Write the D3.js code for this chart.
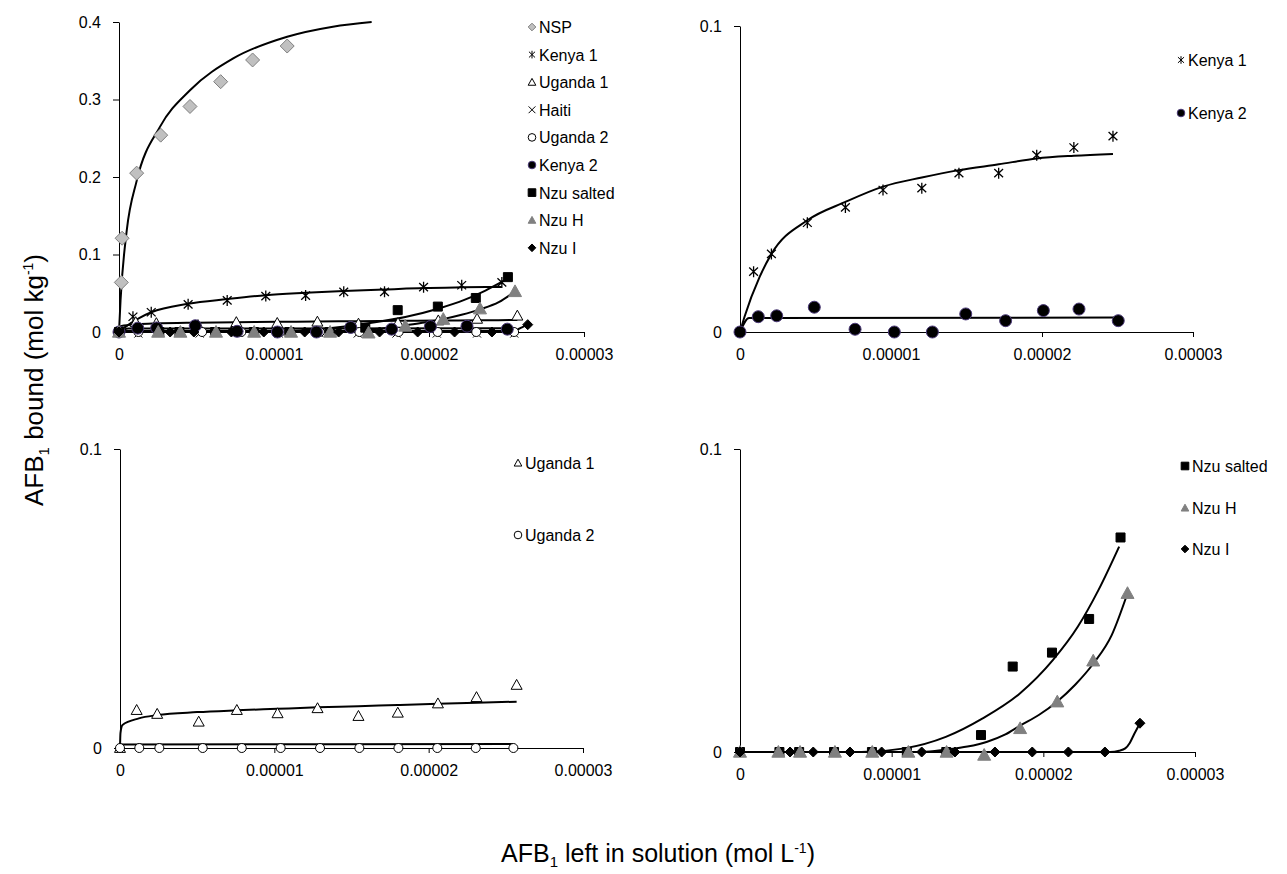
<!DOCTYPE html>
<html>
<head>
<meta charset="utf-8">
<script src="https://cdn.jsdelivr.net/npm/d3@7"></script>
<style>
  body { margin: 0; background: #fff; }
  svg { display: block; }
  text { font-family: "Liberation Sans", Arial, sans-serif; fill: #000; }
</style>
</head>
<body>
<div id="chart"></div>
<script>
// tick labels
const xTicks = [0, 0.00001, 0.00002, 0.00003];
const xTickLabels = ["0", "0.00001", "0.00002", "0.00003"];
const yTicksBig = [0, 0.1, 0.2, 0.3, 0.4];
const yTickLabelsBig = ["0", "0.1", "0.2", "0.3", "0.4"];
const yTicksSmall = [0, 0.1];
const yTickLabelsSmall = ["0", "0.1"];

// series names (legend order)
const seriesNames = ["NSP", "Kenya 1", "Uganda 1", "Haiti", "Uganda 2", "Kenya 2", "Nzu salted", "Nzu H", "Nzu I"];

// measured points (x = mol/L left in solution, y = mol/kg bound)
const nspX = [1.5e-7, 2e-7, 1.14e-6, 2.69e-6, 4.58e-6, 6.56e-6, 8.62e-6, 1.085e-5];
const nspY = [0.064, 0.121, 0.205, 0.254, 0.291, 0.323, 0.351, 0.369];
const kenya1X = [0, 9.0e-7, 2.08e-6, 4.46e-6, 6.98e-6, 9.47e-6, 1.204e-5, 1.45e-5, 1.713e-5, 1.965e-5, 2.211e-5, 2.47e-5];
const kenya1Y = [0, 0.0197, 0.0255, 0.0357, 0.0407, 0.0464, 0.0470, 0.0519, 0.0519, 0.0578, 0.0603, 0.064];
const uganda1X = [0, 1.08e-6, 2.41e-6, 5.1e-6, 7.57e-6, 1.021e-5, 1.28e-5, 1.545e-5, 1.80e-5, 2.06e-5, 2.31e-5, 2.57e-5];
const uganda1Y = [0, 0.0127, 0.0114, 0.0088, 0.0127, 0.0116, 0.0133, 0.0107, 0.0118, 0.0149, 0.0170, 0.0211];
const haitiX = [0, 1.25e-6, 2.5e-6, 5.2e-6, 7.7e-6, 1.03e-5, 1.29e-5, 1.54e-5, 1.79e-5, 2.05e-5, 2.31e-5, 2.55e-5];
const haitiY = [0, -0.002, -0.001, -0.002, -0.001, -0.002, -0.001, -0.002, -0.002, -0.002, -0.002, -0.002];
const uganda2X = [0, 1.25e-6, 2.55e-6, 5.36e-6, 7.89e-6, 1.041e-5, 1.296e-5, 1.551e-5, 1.804e-5, 2.056e-5, 2.305e-5, 2.549e-5];
const uganda2Y = [0, 0, 0, 0, 0, 0, 0, 0, 0, 0, 0, 0];
const kenya2X = [0, 1.21e-6, 2.43e-6, 4.92e-6, 7.62e-6, 1.022e-5, 1.274e-5, 1.495e-5, 1.759e-5, 2.009e-5, 2.245e-5, 2.505e-5];
const kenya2Y = [0, 0.005, 0.0053, 0.0081, 0.0009, 0, 0, 0.0059, 0.0037, 0.007, 0.0075, 0.0037];
const nzuSaltedX = [0, 2.6e-6, 3.9e-6, 6.2e-6, 8.7e-6, 1.1e-5, 1.36e-5, 1.589e-5, 1.798e-5, 2.057e-5, 2.302e-5, 2.509e-5];
const nzuSaltedY = [0, 0, 0, 0, 0, 0, 0, 0.0056, 0.0282, 0.0328, 0.0439, 0.0708];
const nzuHX = [0, 2.53e-6, 3.96e-6, 6.26e-6, 8.72e-6, 1.11e-5, 1.362e-5, 1.61e-5, 1.847e-5, 2.092e-5, 2.329e-5, 2.555e-5];
const nzuHY = [0, 0, 0, 0, 0, 0, 0, -0.001, 0.0078, 0.0166, 0.0301, 0.0524];
const nzuIX = [0, 3.3e-6, 4.83e-6, 7.25e-6, 9.34e-6, 1.198e-5, 1.417e-5, 1.681e-5, 1.927e-5, 2.165e-5, 2.406e-5, 2.637e-5];
const nzuIY = [0, 0, 0, 0, 0, 0, 0, 0, 0, 0, 0, 0.0095];

// fitted isotherm curves
const nspFitX = [0, 1e-7, 5e-7, 1.14e-6, 2.65e-6, 4.58e-6, 7.37e-6, 1.085e-5, 1.38e-5, 1.63e-5];
const nspFitY = [0, 0.041, 0.131, 0.195, 0.265, 0.312, 0.353, 0.381, 0.394, 0.400];
const kenya1FitX = [0, 3e-7, 1.3e-6, 2.08e-6, 4.46e-6, 6.98e-6, 9.47e-6, 1.204e-5, 1.45e-5, 1.713e-5, 1.965e-5, 2.211e-5, 2.47e-5];
const kenya1FitY = [0, 0.005, 0.018, 0.0255, 0.0365, 0.0425, 0.0475, 0.0505, 0.0529, 0.0548, 0.0567, 0.0576, 0.0582];
const uganda1FitX = [0, 3e-8, 1.6e-7, 1.22e-6, 2.41e-6, 5e-6, 7.57e-6, 1.02e-5, 1.28e-5, 1.545e-5, 1.8e-5, 2.06e-5, 2.31e-5, 2.57e-5];
const uganda1FitY = [0, 0.005, 0.0077, 0.0099, 0.011, 0.012, 0.0126, 0.0131, 0.0136, 0.014, 0.0144, 0.0148, 0.0151, 0.0155];
const haitiFitX = [0, 2.55e-5];
const haitiFitY = [0, 0];
const uganda2FitX = [0, 1e-7, 2.549e-5];
const uganda2FitY = [0, 0.0012, 0.0013];
const kenya2FitX = [0, 6e-7, 2.505e-5];
const kenya2FitY = [0, 0.0046, 0.0047];
const nzuSaltedFitX = [0, 8e-6, 1.084e-5, 1.357e-5, 1.6e-5, 1.847e-5, 2.064e-5, 2.228e-5, 2.364e-5, 2.5e-5];
const nzuSaltedFitY = [0, 0, 0.0012, 0.005, 0.0111, 0.0194, 0.0304, 0.0414, 0.0535, 0.0678];
const nzuHFitX = [0, 1.2e-5, 1.36e-5, 1.5e-5, 1.63e-5, 1.75e-5, 1.85e-5, 1.97e-5, 2.09e-5, 2.21e-5, 2.33e-5, 2.45e-5, 2.555e-5];
const nzuHFitY = [0, 0, 0.0008, 0.0018, 0.0034, 0.0058, 0.0088, 0.0122, 0.0166, 0.0222, 0.0292, 0.0385, 0.0524];
const nzuIFitX = [0, 2.44e-5, 2.5e-5, 2.54e-5, 2.57e-5, 2.6e-5, 2.637e-5];
const nzuIFitY = [0, 0, 0.0004, 0.0012, 0.003, 0.006, 0.0095];

// build a lookup table of the series from the arrays above
const zip = (xs, ys) => xs.map((x, i) => ({ x: x, y: ys[i] }));
const series = {
  "NSP":        { pts: zip(nspX, nspY), fit: zip(nspFitX, nspFitY) },
  "Kenya 1":    { pts: zip(kenya1X, kenya1Y), fit: zip(kenya1FitX, kenya1FitY) },
  "Uganda 1":   { pts: zip(uganda1X, uganda1Y), fit: zip(uganda1FitX, uganda1FitY) },
  "Haiti":      { pts: zip(haitiX, haitiY), fit: zip(haitiFitX, haitiFitY) },
  "Uganda 2":   { pts: zip(uganda2X, uganda2Y), fit: zip(uganda2FitX, uganda2FitY) },
  "Kenya 2":    { pts: zip(kenya2X, kenya2Y), fit: zip(kenya2FitX, kenya2FitY) },
  "Nzu salted": { pts: zip(nzuSaltedX, nzuSaltedY), fit: zip(nzuSaltedFitX, nzuSaltedFitY) },
  "Nzu H":      { pts: zip(nzuHX, nzuHY), fit: zip(nzuHFitX, nzuHFitY) },
  "Nzu I":      { pts: zip(nzuIX, nzuIY), fit: zip(nzuIFitX, nzuIFitY) }
};

// marker look for each series
const markerStyle = {
  "NSP":        { shape: "diamond",  r: 7,   fill: "#c0c0c0", stroke: "#808080", sw: 1 },
  "Kenya 1":    { shape: "star",     r: 5.5, fill: "none",    stroke: "#000",    sw: 1.3 },
  "Uganda 1":   { shape: "triangle", r: 5.5, fill: "#fff",    stroke: "#000",    sw: 1 },
  "Haiti":      { shape: "cross",    r: 4,   fill: "none",    stroke: "#000",    sw: 1 },
  "Uganda 2":   { shape: "circle",   r: 4.5, fill: "#fff",    stroke: "#000",    sw: 1 },
  "Kenya 2":    { shape: "circle",   r: 6,   fill: "#000",    stroke: "#4b3a78", sw: 1 },
  "Nzu salted": { shape: "square",   r: 4.5, fill: "#000",    stroke: "#000",    sw: 1 },
  "Nzu H":      { shape: "triangle", r: 6.5, fill: "#808080", stroke: "#808080", sw: 1 },
  "Nzu I":      { shape: "diamond",  r: 5,   fill: "#000",    stroke: "#000",    sw: 1 }
};

// custom symbol types for d3.symbol (size = r*r)
function shapeType(kind) {
  return {
    draw(ctx, size) {
      const s = Math.sqrt(size);
      if (kind === "diamond") {
        ctx.moveTo(0, -s); ctx.lineTo(s, 0); ctx.lineTo(0, s); ctx.lineTo(-s, 0); ctx.closePath();
      } else if (kind === "triangle") {
        ctx.moveTo(0, -s); ctx.lineTo(s, s * 0.8); ctx.lineTo(-s, s * 0.8); ctx.closePath();
      } else if (kind === "square") {
        ctx.moveTo(-s, -s); ctx.lineTo(s, -s); ctx.lineTo(s, s); ctx.lineTo(-s, s); ctx.closePath();
      } else if (kind === "circle") {
        ctx.moveTo(s, 0); ctx.arc(0, 0, s, 0, 2 * Math.PI);
      } else if (kind === "cross") {
        ctx.moveTo(-s, -s); ctx.lineTo(s, s); ctx.moveTo(-s, s); ctx.lineTo(s, -s);
      } else if (kind === "star") {
        ctx.moveTo(0, -s); ctx.lineTo(0, s);
        ctx.moveTo(-s * 0.8, -s * 0.75); ctx.lineTo(s * 0.8, s * 0.75);
        ctx.moveTo(-s * 0.8, s * 0.75); ctx.lineTo(s * 0.8, -s * 0.75);
      }
    }
  };
}

const svg = d3.select("#chart")
  .append("svg")
  .attr("width", 1287)
  .attr("height", 874);

// the four panels
const panels = [
  { left: 119, right: 584, top: 22, bottom: 332, yMax: 0.4, yTicks: yTicksBig, yLabels: yTickLabelsBig,
    names: seriesNames, legendX: 532, legendY: [27, 54.6, 82.2, 109.8, 137.4, 165, 192.6, 220.2, 247.8] },
  { left: 740, right: 1193, top: 26, bottom: 332, yMax: 0.1, yTicks: yTicksSmall, yLabels: yTickLabelsSmall,
    names: ["Kenya 1", "Kenya 2"], legendX: 1181, legendY: [60, 113] },
  { left: 120, right: 583, top: 449, bottom: 748, yMax: 0.1, yTicks: yTicksSmall, yLabels: yTickLabelsSmall,
    names: ["Uganda 1", "Uganda 2"], legendX: 518, legendY: [463, 535] },
  { left: 740, right: 1195, top: 449, bottom: 752, yMax: 0.1, yTicks: yTicksSmall, yLabels: yTickLabelsSmall,
    names: ["Nzu salted", "Nzu H", "Nzu I"], legendX: 1185, legendY: [466, 508, 549] }
];

panels.forEach(p => {
  const x = d3.scaleLinear().domain([0, 0.00003]).range([p.left, p.right]);
  const y = d3.scaleLinear().domain([0, p.yMax]).range([p.bottom, p.top]);
  const g = svg.append("g");

  // axes
  const xAxis = g.append("g")
    .attr("transform", `translate(0, ${p.bottom})`)
    .call(d3.axisBottom(x).tickValues(xTicks).tickFormat((d, i) => xTickLabels[i])
      .tickSize(5).tickSizeOuter(0).tickPadding(12));
  const yAxis = g.append("g")
    .attr("transform", `translate(${p.left}, 0)`)
    .call(d3.axisLeft(y).tickValues(p.yTicks).tickFormat((d, i) => p.yLabels[i])
      .tickSize(6).tickSizeOuter(0).tickPadding(12));
  [xAxis, yAxis].forEach(a => {
    a.selectAll("path, line").attr("stroke", "#000").attr("stroke-width", 1);
    a.selectAll("text").style("font-size", "16px").attr("fill", "#000");
  });

  // fitted curves
  const line = d3.line().x(d => x(d.x)).y(d => y(d.y)).curve(d3.curveMonotoneX);
  p.names.forEach(n => {
    g.append("path")
      .datum(series[n].fit)
      .attr("fill", "none")
      .attr("stroke", "#000")
      .attr("stroke-width", 2)
      .attr("d", line);
  });

  // markers
  p.names.forEach(n => {
    const st = markerStyle[n];
    const sym = d3.symbol().type(shapeType(st.shape)).size(st.r * st.r);
    g.append("g").selectAll("path")
      .data(series[n].pts)
      .join("path")
      .attr("transform", d => `translate(${x(d.x)}, ${y(d.y)})`)
      .attr("d", sym)
      .attr("fill", st.fill)
      .attr("stroke", st.stroke)
      .attr("stroke-width", st.sw);
  });

  // legend
  p.names.forEach((n, i) => {
    const st = markerStyle[n];
    const sym = d3.symbol().type(shapeType(st.shape)).size(Math.pow(Math.min(st.r, 4.5) * 0.85, 2));
    const ly = p.legendY[i];
    g.append("path")
      .attr("transform", `translate(${p.legendX}, ${ly})`)
      .attr("d", sym)
      .attr("fill", st.fill)
      .attr("stroke", st.stroke)
      .attr("stroke-width", 1);
    g.append("text")
      .attr("x", p.legendX + 7)
      .attr("y", ly + 6)
      .style("font-size", "16px")
      .text(n);
  });
});

// axis titles
const yTitle = svg.append("text")
  .attr("transform", "translate(43, 380) rotate(-90)")
  .style("text-anchor", "middle")
  .style("font-size", "26px");
yTitle.append("tspan").text("AFB");
yTitle.append("tspan").attr("dy", 6).style("font-size", "15px").text("1");
yTitle.append("tspan").attr("dy", -6).text(" bound (mol kg");
yTitle.append("tspan").attr("dy", -10).style("font-size", "14px").text("-1");
yTitle.append("tspan").attr("dy", 10).text(")");

const xTitle = svg.append("text")
  .attr("transform", "translate(658, 862)")
  .style("text-anchor", "middle")
  .style("font-size", "25px");
xTitle.append("tspan").text("AFB");
xTitle.append("tspan").attr("dy", 5).style("font-size", "15px").text("1");
xTitle.append("tspan").attr("dy", -5).text(" left in solution (mol L");
xTitle.append("tspan").attr("dy", -9).style("font-size", "14px").text("-1");
xTitle.append("tspan").attr("dy", 9).text(")");
</script>
</body>
</html>
